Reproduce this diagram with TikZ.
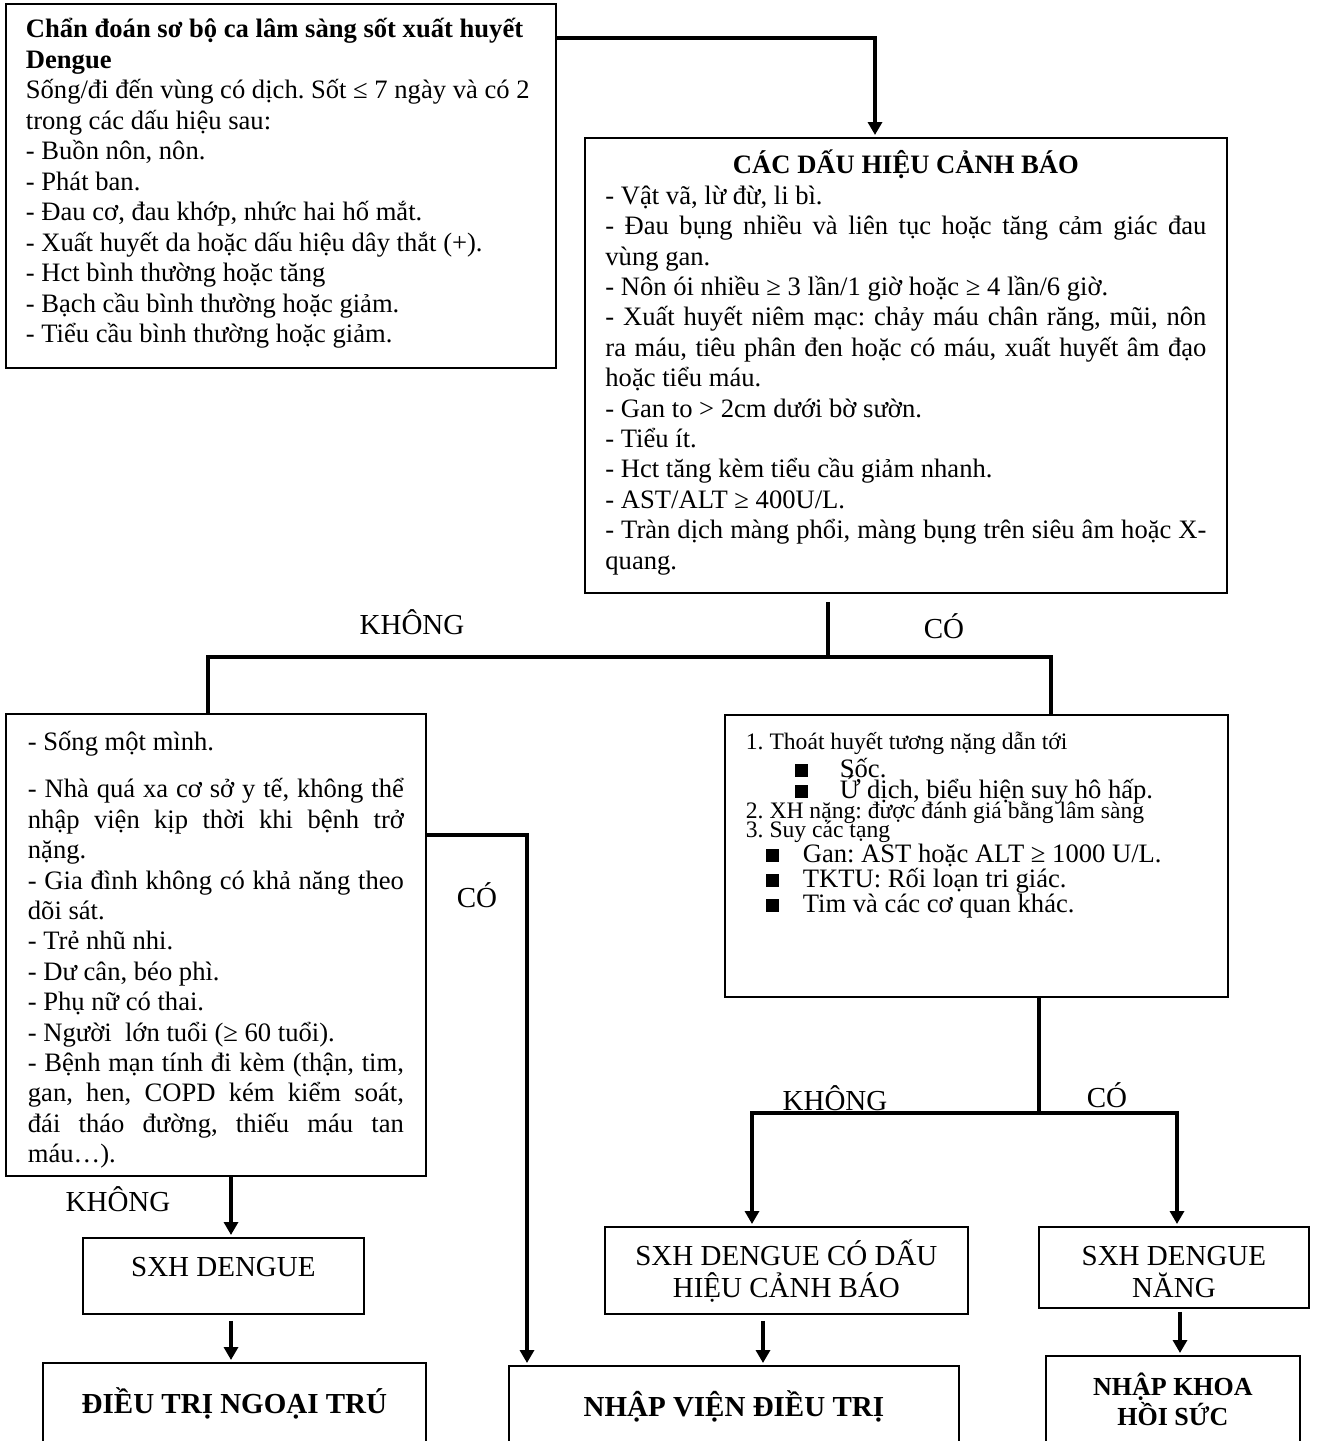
\documentclass[tikz,border=0pt]{standalone}
\usepackage{fontspec}
\setmainfont{Liberation Serif}
\usetikzlibrary{arrows.meta,calc}
\frenchspacing
\newcommand\jl[1]{\makebox[\linewidth][s]{#1}}
\newcommand\sqb{\rule[0.5pt]{6.5pt}{6.5pt}}
\tikzset{
  box/.style={draw, line width=0.9pt, inner ysep=0pt, anchor=north west},
  conn/.style={line width=2.2pt},
  arr/.style={line width=2.2pt, -{Triangle[length=6.5pt,width=7pt]}, shorten >=1pt},
  lbl/.style={font=\fontsize{14.5}{16}\selectfont, inner sep=0pt},
}
\begin{document}
\begin{tikzpicture}[x=0.5pt,y=-0.5pt]
\useasboundingbox (0,0) rectangle (1319,1441);
\clip (0,0) rectangle (1319,1441);

% Box 1
\node[box, inner xsep=10pt] (b1) at (5,3) {\parbox[c][182pt][t]{255pt}{\fontsize{13.3}{15.25}\selectfont\frenchspacing\raggedright
\rule{0pt}{17pt}\textbf{Chẩn đoán sơ bộ ca lâm sàng sốt xuất huyết}\\
\textbf{Dengue}\\
Sống/đi đến vùng có dịch. Sốt ≤ 7 ngày và có 2\\
trong các dấu hiệu sau:\\
- Buồn nôn, nôn.\\
- Phát ban.\\
- Đau cơ, đau khớp, nhức hai hố mắt.\\
- Xuất huyết da hoặc dấu hiệu dây thắt (+).\\
- Hct bình thường hoặc tăng\\
- Bạch cầu bình thường hoặc giảm.\\
- Tiểu cầu bình thường hoặc giảm.}};

% Box 2
\node[box, inner xsep=10.25pt] (b2) at (584,137) {\parbox[c][227.5pt][t]{300.5pt}{\fontsize{13.3}{15.2}\selectfont\frenchspacing
\makebox[\linewidth][c]{\rule{0pt}{18pt}\textbf{CÁC DẤU HIỆU CẢNH BÁO}}\\
- Vật vã, lừ đừ, li bì.\\
\jl{- Đau bụng nhiều và liên tục hoặc tăng cảm giác đau}\\
vùng gan.\\
- Nôn ói nhiều ≥ 3 lần/1 giờ hoặc ≥ 4 lần/6 giờ.\\
\jl{- Xuất huyết niêm mạc: chảy máu chân răng, mũi, nôn}\\
\jl{ra máu, tiêu phân đen hoặc có máu, xuất huyết âm đạo}\\
hoặc tiểu máu.\\
- Gan to > 2cm dưới bờ sườn.\\
- Tiểu ít.\\
- Hct tăng kèm tiểu cầu giảm nhanh.\\
- AST/ALT ≥ 400U/L.\\
\jl{- Tràn dịch màng phổi, màng bụng trên siêu âm hoặc X-}\\
quang.}};

% Box 3
\node[box, inner xsep=11pt] (b3) at (5,713) {\parbox[c][231pt][t]{188pt}{\fontsize{13.3}{15.2}\selectfont\frenchspacing
\rule{0pt}{18.5pt}- Sống một mình.\\[8.25pt]
\jl{- Nhà quá xa cơ sở y tế, không thể}\\
\jl{nhập viện kịp thời khi bệnh trở}\\
nặng.\\
\jl{- Gia đình không có khả năng theo}\\
dõi sát.\\
- Trẻ nhũ nhi.\\
- Dư cân, béo phì.\\
- Phụ nữ có thai.\\
- Người~ lớn tuổi (≥ 60 tuổi).\\
\jl{- Bệnh mạn tính đi kèm (thận, tim,}\\
\jl{gan, hen, COPD kém kiểm soát,}\\
\jl{đái tháo đường, thiếu máu tan}\\
máu…).}};

% Box 4
\node[box, inner xsep=10.5pt] (b4) at (724,714) {\parbox[c][141pt][t]{230.5pt}{\fontsize{11.8}{0}\selectfont\frenchspacing\lineskiplimit=-100pt\relax
\rule{0pt}{17.5pt}1. Thoát huyết tương nặng dẫn tới\\[14pt]
{\fontsize{13.3}{0}\selectfont\makebox[47pt][l]{\hspace*{24.5pt}\sqb}Sốc.}\\[10.5pt]
{\fontsize{13.3}{0}\selectfont\makebox[47pt][l]{\hspace*{24.5pt}\sqb}Ứ dịch, biểu hiện suy hô hấp.}\\[10pt]
2. XH nặng: được đánh giá bằng lâm sàng\\[9.5pt]
3. Suy các tạng\\[12.5pt]
{\fontsize{13.3}{0}\selectfont\makebox[28.5pt][l]{\hspace*{10pt}\sqb}Gan: AST hoặc ALT ≥ 1000 U/L.}\\[12.5pt]
{\fontsize{13.3}{0}\selectfont\makebox[28.5pt][l]{\hspace*{10pt}\sqb}TKTU: Rối loạn tri giác.}\\[12.5pt]
{\fontsize{13.3}{0}\selectfont\makebox[28.5pt][l]{\hspace*{10pt}\sqb}Tim và các cơ quan khác.}}};

% Bottom boxes
\node[box, inner xsep=0pt] (sd) at (82,1237) {\parbox[c][38pt][t]{140.5pt}{\fontsize{14.5}{16}\selectfont\centering
\rule{0pt}{19.5pt}SXH DENGUE\par}};
\node[box, inner xsep=0pt] (dt) at (42,1362) {\parbox[c][49pt][t]{191.5pt}{\fontsize{14.5}{16}\selectfont\centering
\rule{0pt}{25.5pt}\textbf{ĐIỀU TRỊ NGOẠI TRÚ}\par}};
\node[box, inner xsep=0pt] (cd) at (604,1226) {\parbox[c][43.5pt][t]{181.5pt}{\fontsize{14.5}{16}\selectfont\centering
\rule{0pt}{19.5pt}SXH DENGUE CÓ DẤU\\HIỆU CẢNH BÁO\par}};
\node[box, inner xsep=0pt] (nv) at (508,1365) {\parbox[c][47.5pt][t]{225pt}{\fontsize{14.5}{16}\selectfont\centering
\rule{0pt}{25.5pt}\textbf{NHẬP VIỆN ĐIỀU TRỊ}\par}};
\node[box, inner xsep=0pt] (sn) at (1038,1226) {\parbox[c][40.5pt][t]{135pt}{\fontsize{14.5}{16}\selectfont\centering
\rule{0pt}{19.5pt}SXH DENGUE\\NĂNG\par}};
\node[box, inner xsep=0pt] (nk) at (1045,1355) {\parbox[c][52.5pt][t]{127pt}{\fontsize{13}{15}\selectfont\centering
\rule{0pt}{20pt}\textbf{NHẬP KHOA}\\\textbf{HỒI SỨC}\par}};

% Labels
\node[lbl] (l1) at (412,622) {KHÔNG};
\node[lbl] (l2) at (944,626) {CÓ};
\node[lbl] (l3) at (477,895) {CÓ};
\node[lbl] (l4) at (118,1199) {KHÔNG};
\node[lbl] (l5) at (835,1098) {KHÔNG};
\node[lbl] (l6) at (1107,1095) {CÓ};

% Connectors
\coordinate (k1) at (875,38);
\draw[arr] (b1.east |- k1) -- (k1) -- (k1 |- b2.north);

\coordinate (j1) at (828,657);
\coordinate (jl) at (208,657);
\coordinate (jr) at (1051,657);
\draw[conn] (b2.south -| j1) ++(0,8) -- (j1);
\draw[conn] (jl |- b3.north) -- (jl) -- (jr) -- (jr |- b4.north);

\coordinate (k3) at (527,835);
\draw[arr] (b3.east |- k3) -- (k3) -- (k3 |- nv.north);

\coordinate (a1) at (231,0);
\draw[arr] (b3.south -| a1) -- (a1 |- sd.north);
\draw[arr] (sd.south -| a1) ++(0,6) -- (a1 |- dt.north);

\coordinate (j2) at (1039,1113);
\coordinate (j2l) at (752,1113);
\coordinate (j2r) at (1177,1113);
\draw[conn] (b4.south -| j2) -- (j2);
\draw[arr] (j2) -- (j2l) -- (j2l |- cd.north);
\draw[arr] (j2) -- (j2r) -- (j2r |- sn.north);

\coordinate (a2) at (763,0);
\draw[arr] (cd.south -| a2) ++(0,6) -- (a2 |- nv.north);
\coordinate (a3) at (1180,0);
\draw[arr] (sn.south -| a3) ++(0,3) -- (a3 |- nk.north);
\end{tikzpicture}
\end{document}
